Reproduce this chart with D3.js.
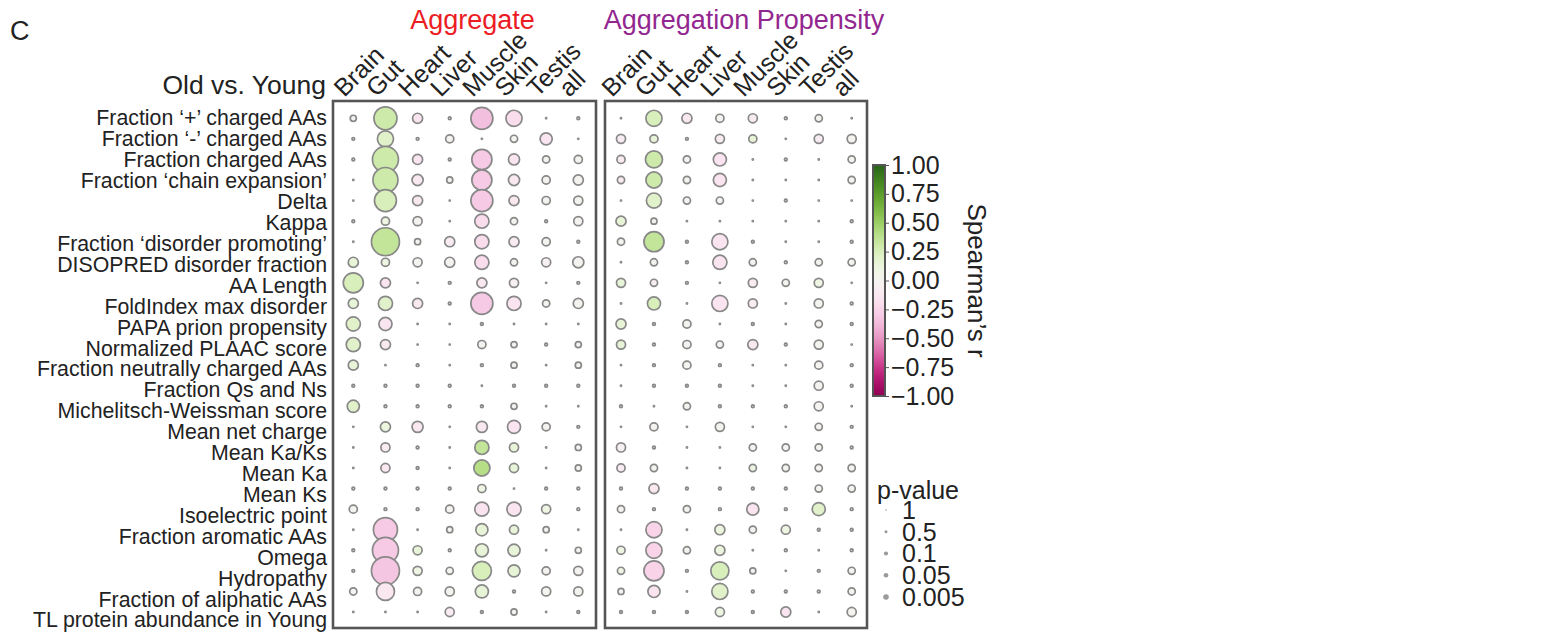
<!DOCTYPE html>
<html>
<head>
<meta charset="utf-8">
<script src="https://cdn.jsdelivr.net/npm/d3@7"></script>
<style>
  body { margin: 0; background: #fff; }
  svg { font-family: Arial, 'Liberation Sans', sans-serif; }
</style>
</head>
<body>
<div id="chart"></div>
<script>
// feature rows (top to bottom)
const features = [
  'Fraction ‘+’ charged AAs', 'Fraction ‘-’ charged AAs', 'Fraction charged AAs',
  'Fraction ‘chain expansion’', 'Delta', 'Kappa', 'Fraction ‘disorder promoting’',
  'DISOPRED disorder fraction', 'AA Length', 'FoldIndex max disorder',
  'PAPA prion propensity', 'Normalized PLAAC score', 'Fraction neutrally charged AAs',
  'Fraction Qs and Ns', 'Michelitsch-Weissman score', 'Mean net charge', 'Mean Ka/Ks',
  'Mean Ka', 'Mean Ks', 'Isoelectric point', 'Fraction aromatic AAs', 'Omega',
  'Hydropathy', 'Fraction of aliphatic AAs', 'TL protein abundance in Young'
];
const tissues = ['Brain', 'Gut', 'Heart', 'Liver', 'Muscle', 'Skin', 'Testis', 'all'];

// -log10(p) per feature x tissue, "Aggregate"
const aggLogP = [
  [1.0, 19.9, 3.3, 0.1, 18.1, 9.3, 0, 0.1],
  [0.1, 9.3, 0.1, 2.0, 0, 1.5, 5.0, 0],
  [0.1, 25.7, 3.3, 0.1, 14.9, 4.1, 1.5, 2.0],
  [0, 23.7, 4.1, 1.0, 14.9, 4.1, 2.0, 3.3],
  [0, 18.1, 3.3, 0, 18.1, 3.3, 2.0, 2.6],
  [0.1, 2.0, 2.6, 0, 7.0, 1.5, 0.1, 2.6],
  [0, 30, 1.0, 3.3, 7.0, 3.3, 2.0, 0.1],
  [3.3, 2.0, 2.6, 3.3, 7.0, 1.5, 2.6, 4.1],
  [14.9, 3.3, 0, 0.1, 3.3, 2.6, 0, 0.1],
  [3.3, 7.0, 3.3, 0.1, 18.1, 7.0, 1.5, 3.3],
  [7.0, 5.9, 0, 0, 0.1, 0, 0, 0],
  [7.0, 3.3, 0, 0, 2.0, 1.0, 0.1, 1.0],
  [3.3, 0, 0.1, 0, 0.1, 1.0, 0, 1.0],
  [0.1, 0.1, 0.1, 0.1, 0, 0.1, 0.1, 0.1],
  [5.0, 0.1, 0.1, 0.1, 0.1, 1.0, 0, 0],
  [0, 3.3, 4.1, 0, 4.1, 5.9, 2.0, 0.1],
  [0, 2.6, 0.1, 0, 7.0, 2.6, 0, 1.0],
  [0, 2.6, 0.1, 0, 9.3, 2.6, 0, 1.0],
  [0.1, 0.1, 0.1, 0.1, 2.0, 0, 0.1, 0.1],
  [2.0, 0.1, 0.1, 2.0, 7.0, 7.0, 2.6, 0.1],
  [0, 21.8, 0, 1.0, 5.0, 2.6, 1.0, 0],
  [0.1, 25.7, 2.6, 0.1, 5.9, 5.0, 0, 1.0],
  [0.1, 30, 2.6, 1.5, 13.3, 5.0, 2.0, 2.6],
  [1.5, 11.9, 2.0, 2.6, 5.9, 0.1, 2.6, 2.6],
  [0, 0, 0, 2.6, 0.1, 1.0, 0, 0.1]
];
// Spearman's r, "Aggregate"
const aggR = [
  [0, 0.3, -0.15, 0, -0.35, -0.2, 0, 0],
  [0, 0.2, 0, 0, 0, 0, -0.15, 0],
  [0, 0.3, -0.15, 0, -0.3, -0.15, 0, 0],
  [0, 0.3, -0.12, 0, -0.3, -0.12, 0, 0],
  [0, 0.25, -0.12, 0, -0.3, -0.12, 0, 0],
  [0, 0.1, 0, 0, -0.2, 0, 0, 0],
  [0, 0.35, 0, -0.1, -0.2, -0.1, 0, 0],
  [0.15, 0.1, 0, 0, -0.2, 0, -0.05, 0],
  [0.25, -0.15, 0, 0, -0.12, -0.05, 0, 0],
  [0.15, 0.2, -0.12, 0, -0.3, -0.15, 0, 0],
  [0.2, -0.15, 0, 0, 0, 0, 0, 0],
  [0.2, -0.12, 0, 0, 0, 0, 0, 0],
  [0.15, 0, 0, 0, 0, 0, 0, 0],
  [0, 0, 0, 0, 0, 0, 0, 0],
  [0.2, 0, 0, 0, 0, 0, 0, 0],
  [0, 0.12, -0.12, 0, -0.12, -0.15, 0, 0],
  [0, -0.1, 0, 0, 0.35, 0.15, 0, 0],
  [0, -0.12, 0, 0, 0.4, 0.15, 0, 0],
  [0, 0, 0, 0, 0.1, 0, 0, 0],
  [0, 0, 0, 0, -0.15, -0.15, 0.1, 0],
  [0, -0.3, 0, 0, 0.15, 0.15, 0, 0],
  [0, -0.3, 0.15, 0, 0.15, 0.15, 0, 0],
  [0, -0.32, 0.1, 0, 0.25, 0.15, 0, 0],
  [0, -0.12, 0, 0, 0.15, 0, 0, 0],
  [0, 0, 0, -0.1, 0, 0, 0, 0]
];
// -log10(p), "Aggregation Propensity"
const propLogP = [
  [0, 9.3, 3.3, 2.0, 2.6, 0.1, 1.5, 0],
  [2.6, 2.0, 0.1, 2.6, 2.0, 0, 2.6, 2.6],
  [2.0, 10.5, 1.5, 5.9, 0, 0.1, 0, 1.5],
  [1.5, 9.3, 1.5, 5.9, 0, 0, 0, 1.5],
  [0, 8.1, 1.5, 1.5, 0, 0.1, 0, 0],
  [3.3, 1.0, 0, 0, 0, 0, 0, 0.1],
  [1.5, 14.9, 0.1, 9.3, 0.1, 0, 0, 0.1],
  [0, 1.5, 0.1, 7.0, 1.5, 0.1, 1.5, 1.5],
  [2.6, 1.5, 0.1, 0, 2.6, 1.5, 2.6, 0],
  [0, 5.9, 0, 9.3, 2.6, 0, 2.6, 0.1],
  [3.3, 0.1, 2.0, 0, 0.1, 0, 1.5, 0.1],
  [2.6, 0.1, 2.0, 1.5, 3.3, 0.1, 2.6, 0],
  [0, 0.1, 2.0, 0.1, 0, 0, 2.0, 0.1],
  [0, 0.1, 0.1, 0.1, 0, 0, 2.6, 0.1],
  [0.1, 0, 1.5, 0.1, 0.1, 0.1, 2.6, 0],
  [0, 2.0, 0, 2.6, 0, 0, 1.5, 0.1],
  [2.6, 0.1, 0, 0, 1.5, 1.5, 1.5, 0.1],
  [2.0, 1.5, 0, 0, 1.5, 1.5, 1.5, 1.5],
  [0.1, 3.3, 0.1, 0.1, 0.1, 0.1, 1.5, 1.5],
  [1.5, 0.1, 1.5, 0.1, 5.0, 0.1, 5.9, 0.1],
  [0, 9.3, 0, 3.3, 1.5, 2.6, 0.1, 0.1],
  [2.0, 9.3, 1.5, 3.3, 0, 0.1, 0, 0.1],
  [1.5, 14.9, 0.1, 11.9, 1.0, 0, 0.1, 1.5],
  [1.0, 5.0, 0, 9.3, 0.1, 0.1, 0.1, 1.5],
  [0.1, 0.1, 0.1, 2.6, 0.1, 3.3, 0, 2.6]
];
// Spearman's r, "Aggregation Propensity"
const propR = [
  [0, 0.25, -0.12, 0, -0.1, 0, 0, 0],
  [-0.1, 0.15, 0, -0.1, 0.15, 0, -0.1, 0],
  [-0.1, 0.3, 0, -0.15, 0, 0, 0, 0],
  [-0.1, 0.3, 0, -0.15, 0, 0, 0, 0],
  [0, 0.2, 0, 0, 0, 0, 0, 0],
  [0.15, 0, 0, 0, 0, 0, 0, 0],
  [0, 0.35, 0, -0.15, 0, 0, 0, 0],
  [0, 0, 0, -0.15, 0, 0, 0, 0],
  [0.15, -0.05, 0, 0, -0.1, 0, 0.1, 0],
  [0, 0.25, 0, -0.15, -0.1, 0, 0, 0],
  [0.15, 0, 0, 0, 0, 0, 0, 0],
  [0.15, 0, 0, 0, -0.12, 0, 0, 0],
  [0, 0, 0, 0, 0, 0, 0, 0],
  [0, 0, 0, 0, 0, 0, 0, 0],
  [0, 0, 0, 0, 0, 0, 0, 0],
  [0, 0, 0, 0, 0, 0, 0, 0],
  [-0.05, 0, 0, 0, 0, 0, 0, 0],
  [-0.1, 0, 0, 0, 0.1, 0, 0, 0],
  [0, -0.12, 0, 0, 0, 0, 0, 0],
  [0, 0, 0, 0, -0.15, 0, 0.2, 0],
  [0, -0.25, 0, 0.12, 0, 0.1, 0, 0],
  [0.1, -0.25, 0, 0.12, 0, 0, 0, 0],
  [0.1, -0.25, 0, 0.25, 0, 0, 0, 0],
  [0, -0.15, 0, 0.2, 0, 0, 0, 0],
  [0, 0, 0, 0.1, 0, -0.15, 0, 0]
];

const colorTicks = [1, 0.75, 0.5, 0.25, 0, -0.25, -0.5, -0.75, -1];
const legendP = ['1', '0.5', '0.1', '0.05', '0.005'];

const width = 1559;
const height = 633;
const textColor = '#222';

const svg = d3.select('#chart')
  .append('svg')
  .attr('width', width)
  .attr('height', height);

const rowY = d3.scalePoint().domain(d3.range(features.length)).range([118.3, 612]);
const labelY = d3.scalePoint().domain(d3.range(features.length)).range([118, 620]);
const radius = d3.scaleSqrt().domain([0, 30]).range([0.6, 14]);
const color = d3.scaleSequential(d3.interpolatePiYG).domain([-1, 1]);

// panel letter and row header
svg.append('text')
  .attr('x', 10).attr('y', 40)
  .attr('font-size', 27).attr('fill', textColor)
  .text('C');
svg.append('text')
  .attr('x', 326).attr('y', 94)
  .attr('text-anchor', 'end')
  .attr('font-size', 26.5).attr('fill', textColor)
  .text('Old vs. Young');

svg.append('g')
  .selectAll('text')
  .data(features)
  .join('text')
  .attr('x', 327)
  .attr('y', (d, i) => labelY(i))
  .attr('dy', '0.35em')
  .attr('text-anchor', 'end')
  .attr('font-size', 21.3)
  .attr('fill', textColor)
  .text(d => d);

function drawPanel(title, titleColor, box, xRange, logP, rho) {
  const x = d3.scalePoint().domain(tissues).range(xRange);
  const g = svg.append('g');

  g.append('text')
    .attr('x', (box[0] + box[1]) / 2 + 8)
    .attr('y', 29)
    .attr('text-anchor', 'middle')
    .attr('font-size', 27)
    .attr('fill', titleColor)
    .text(title);

  g.selectAll('.col-label')
    .data(tissues)
    .join('text')
    .attr('class', 'col-label')
    .attr('transform', d => `translate(${x(d) - 9},98) rotate(-45)`)
    .attr('font-size', 25)
    .attr('fill', textColor)
    .text(d => d);

  g.append('rect')
    .attr('x', box[0])
    .attr('y', 101)
    .attr('width', box[1] - box[0])
    .attr('height', 527)
    .attr('fill', 'none')
    .attr('stroke', '#555')
    .attr('stroke-width', 2.6);

  const cells = [];
  logP.forEach((row, i) => row.forEach((v, j) => {
    cells.push({ row: i, tissue: tissues[j], logp: v, r: rho[i][j] });
  }));

  g.selectAll('circle')
    .data(cells)
    .join('circle')
    .attr('cx', d => x(d.tissue))
    .attr('cy', d => rowY(d.row))
    .attr('r', d => radius(d.logp))
    .attr('fill', d => color(d.r))
    .attr('stroke', '#888')
    .attr('stroke-width', 1.7);
}

drawPanel('Aggregate', '#ec1c24', [333, 596], [353.3, 578.3], aggLogP, aggR);
drawPanel('Aggregation Propensity', '#92278f', [605, 867], [621, 851.7], propLogP, propR);

// colour bar
const cbY = d3.scaleLinear().domain([-1, 1]).range([396, 165]);
const defs = svg.append('defs');
const grad = defs.append('linearGradient')
  .attr('id', 'piyg')
  .attr('x1', 0).attr('y1', 1)
  .attr('x2', 0).attr('y2', 0);
grad.selectAll('stop')
  .data(d3.range(0, 1.0001, 0.05))
  .join('stop')
  .attr('offset', d => d)
  .attr('stop-color', d => d3.interpolatePiYG(d));

svg.append('rect')
  .attr('x', 873)
  .attr('y', cbY(1))
  .attr('width', 12)
  .attr('height', cbY(-1) - cbY(1))
  .attr('fill', 'url(#piyg)')
  .attr('stroke', '#555')
  .attr('stroke-width', 2);

const cbAxis = svg.append('g')
  .attr('transform', 'translate(886,0)')
  .call(d3.axisRight(cbY).tickValues(colorTicks).tickSize(3).tickPadding(2).tickFormat(d3.format('.2f')));
cbAxis.select('.domain').remove();
cbAxis.selectAll('line').attr('stroke', '#555');
cbAxis.selectAll('text')
  .attr('font-size', 25)
  .attr('font-family', "Arial, 'Liberation Sans', sans-serif")
  .attr('fill', textColor);

svg.append('text')
  .attr('transform', `translate(968,${(cbY(1) + cbY(-1)) / 2}) rotate(90)`)
  .attr('text-anchor', 'middle')
  .attr('font-size', 26)
  .attr('fill', textColor)
  .text('Spearman’s r');

// p-value size legend
const legendRadius = d3.scaleSqrt().domain([0, 2.3]).range([0.8, 2.8]);
const legendRow = d3.scalePoint().domain(legendP).range([510, 597]);
svg.append('text')
  .attr('x', 877).attr('y', 490)
  .attr('dy', '0.35em')
  .attr('font-size', 25)
  .attr('fill', textColor)
  .text('p-value');
const legend = svg.append('g')
  .selectAll('g')
  .data(legendP)
  .join('g')
  .attr('transform', d => `translate(0,${legendRow(d)})`);
legend.append('circle')
  .attr('cx', 886)
  .attr('r', d => legendRadius(-Math.log10(+d)))
  .attr('fill', '#9a9a9a');
legend.append('text')
  .attr('x', 902)
  .attr('dy', '0.35em')
  .attr('font-size', 25)
  .attr('fill', textColor)
  .text(d => d);
</script>
</body>
</html>
